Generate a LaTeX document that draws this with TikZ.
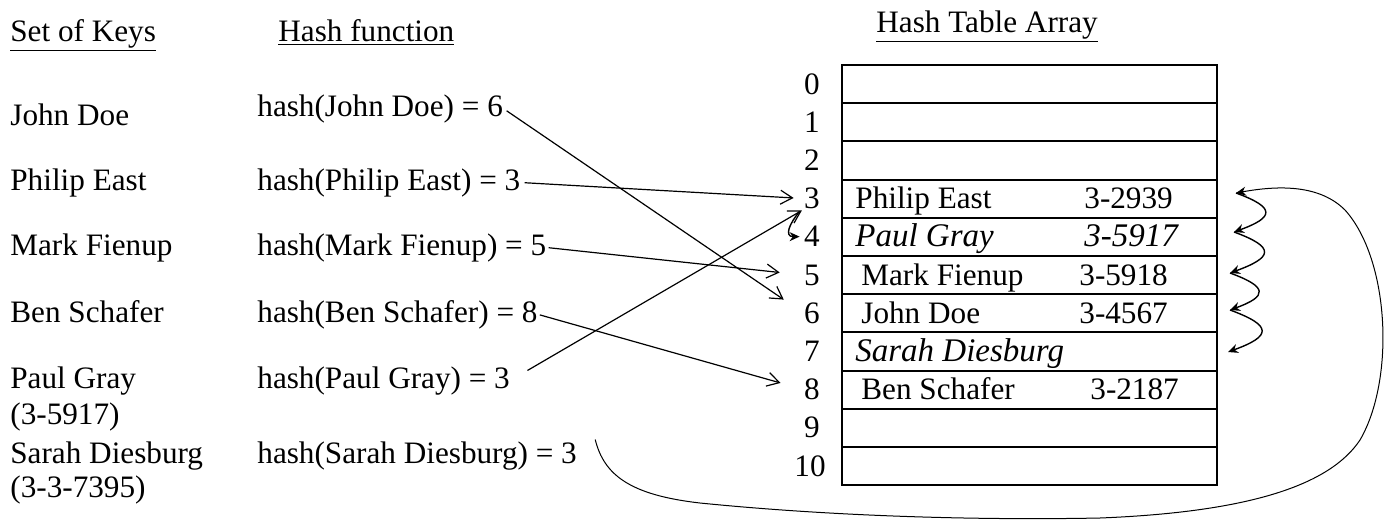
\documentclass[tikz,border=0pt]{standalone}
\usepackage{fontspec}
\setmainfont{Liberation Serif}
\usetikzlibrary{arrows.meta}

\begin{document}
\begin{tikzpicture}[x=0.5pt, y=-0.5pt, font=\fontsize{15.6}{18}\selectfont]
%% one unit is one pixel of the scan, y grows downwards
%% row k of the table: top at 65+38.2k, text baseline at 94+38.2k
\tikzstyle{arc}=[->,>={Straight Barb[length=6pt,width=7pt]},line width=0.6pt]
\tikzstyle{curl}=[->,>={Stealth[length=5pt,width=4.5pt]},line width=0.7pt]
\tikzstyle{bigcurl}=[->,>={Stealth[length=5pt,width=4.5pt]},line width=0.5pt]
\tikzstyle{cell}=[draw,line width=1pt,minimum width=187.5pt,minimum height=19.1pt,inner sep=0pt]
\tikzstyle{key}=[anchor=base west,inner sep=0pt]
\tikzstyle{idx}=[anchor=base east,inner sep=0pt]
\tikzstyle{hand}=[anchor=base west,inner sep=0pt,font=\fontsize{16.5}{18}\selectfont\itshape]
\useasboundingbox (0,0) rectangle (1389,521);
%% headings
\node[key] at (10,41) (keysHead) {\underline{Set of Keys}};
\node[key] at (278,41) (hashHead) {\underline{Hash function}};
\node[key] at (876,32) (tableHead) {\underline{Hash Table Array}};
%% set of keys
\node[key] at (10,125) (kJohn) {John Doe};
\node[key] at (10,190) (kPhilip) {Philip East};
\node[key] at (10,255) (kMark) {Mark Fienup};
\node[key] at (10,322) (kBen) {Ben Schafer};
\node[key] at (10,388) (kPaul) {Paul Gray};
\node[key] at (10,424) (kPaulNo) {(3-5917)};
\node[key] at (10,463) (kSarah) {Sarah Diesburg};
\node[key] at (10,497) (kSarahNo) {(3-3-7395)};
%% hash function
\node[key] at (257,116) (hJohn) {hash(John Doe) = 6};
\node[key] at (257,190) (hPhilip) {hash(Philip East) = 3};
\node[key] at (257,255) (hMark) {hash(Mark Fienup) = 5};
\node[key] at (257,322) (hBen) {hash(Ben Schafer) = 8};
\node[key] at (257,388) (hPaul) {hash(Paul Gray) = 3};
\node[key] at (257,463) (hSarah) {hash(Sarah Diesburg) = 3};
%% hash table array
\node[cell] at (1029.5,84.1) (c0) {};
\node[cell] at (1029.5,122.3) (c1) {};
\node[cell] at (1029.5,160.5) (c2) {};
\node[cell] at (1029.5,198.7) (c3) {};
\node[cell] at (1029.5,236.9) (c4) {};
\node[cell] at (1029.5,275.1) (c5) {};
\node[cell] at (1029.5,313.3) (c6) {};
\node[cell] at (1029.5,351.5) (c7) {};
\node[cell] at (1029.5,389.7) (c8) {};
\node[cell] at (1029.5,427.9) (c9) {};
\node[cell] at (1029.5,466.1) (c10) {};
%% index of each row
\node[idx] at (820,94.1) (r0) {0};
\node[idx] at (820,132.3) (r1) {1};
\node[idx] at (820,170.5) (r2) {2};
\node[idx] at (820,208.7) (r3) {3};
\node[idx] at (820,246.9) (r4) {4};
\node[idx] at (820,285.1) (r5) {5};
\node[idx] at (820,323.3) (r6) {6};
\node[idx] at (820,361.5) (r7) {7};
\node[idx] at (820,399.7) (r8) {8};
\node[idx] at (820,437.9) (r9) {9};
\node[idx] at (826,476.1) (r10) {10};
%% entries
\node[key] at (855,208.7) (nPhilip) {Philip East};
\node[key] at (1084,208.7) (tPhilip) {3-2939};
\node[hand] at (855,246.9) (nPaul) {Paul Gray};
\node[hand] at (1084,246.9) (tPaul) {3-5917};
\node[key] at (861,285.1) (nMark) {Mark Fienup};
\node[key] at (1079,285.1) (tMark) {3-5918};
\node[key] at (861,323.3) (nJohn) {John Doe};
\node[key] at (1079,323.3) (tJohn) {3-4567};
\node[hand] at (855,361.5) (nSarah) {Sarah Diesburg};
\node[key] at (861,399.7) (nBen) {Ben Schafer};
\node[key] at (1090,399.7) (tBen) {3-2187};
%% hash arrows
\draw[arc, shorten <=2pt, shorten >=12pt] (hJohn.east) -- (r6.west);
\draw[arc, shorten <=2pt, shorten >=5pt] (hPhilip.east) -- (r3.west);
\draw[arc, shorten <=1pt, shorten >=12pt] (hMark.east) -- (r5.west);
\draw[arc, shorten <=1pt, shorten >=12pt] (hBen.east) -- (r8.west);
\draw[arc, shorten <=10pt, shorten >=1pt] (hPaul.east) -- (r3.south west);
%% Paul Gray probes on to row 4
\draw[curl] ([shift={(-2pt,-1pt)}]r3.south west) to[out=230,in=180,looseness=1.6] ([xshift=-2pt]r4.west);
%% Sarah Diesburg goes round the table to row 3
\coordinate (t3) at (1236,193);
\coordinate (t4) at (1234,232);
\coordinate (t5) at (1230,273);
\coordinate (t6) at (1230,310);
\coordinate (t7) at (1228,352);
\draw[bigcurl] ([xshift=9pt,yshift=8pt]hSarah.east) .. controls (604,475) and (630,495) .. (700,503)
  .. controls (850,518) and (1000,520) .. (1100,518) .. controls (1250,512) and (1330,485) .. (1360,440)
  .. controls (1395,380) and (1390,260) .. (1345,210) .. controls (1320,185) and (1280,185) .. (t3);
%% and probes down rows 4 to 7
\draw[curl] (t3) to[out=-20,in=20,looseness=2.8] (t4);
\draw[curl] (t4) to[out=-20,in=20,looseness=2.8] (t5);
\draw[curl] (t5) to[out=-20,in=20,looseness=2.8] (t6);
\draw[curl] (t6) to[out=-20,in=20,looseness=2.8] (t7);
\end{tikzpicture}
\end{document}
